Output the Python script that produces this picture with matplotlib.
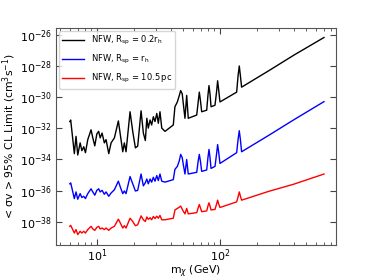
import numpy as np
import matplotlib
matplotlib.use("Agg")
import matplotlib.pyplot as plt
from matplotlib.ticker import LogLocator, NullLocator, FixedLocator, NullFormatter

# Dark-matter mass (GeV)
mass = [6.0, 6.1, 6.53, 6.74, 6.96, 7.28, 7.52, 7.79, 8.04, 8.40, 8.93, 9.23, 9.58,
        9.95, 10.3, 10.6, 10.98, 11.46, 11.83, 12.45, 13.0, 13.83, 14.9, 15.46, 16.18,
        16.67, 17.2, 18.55, 19.5, 20.5, 21.4, 22.8, 23.8, 24.7, 25.4, 26.1, 27.0, 27.8,
        28.7, 29.6, 30.6, 31.5, 32.5, 33.6, 35.7, 41.7, 43.0, 45.0, 46.7, 47.9, 49.3,
        50.3, 51.9, 53.6, 55.2, 64.7, 66.5, 67.9, 69.3, 71.0, 78.0, 79.8, 81.4, 83.0,
        84.6, 91.1, 94.0, 95.7, 97.5, 100, 136.7, 140.5, 143.6, 146.5, 150, 250, 400, 702]

# log10 of <sigma v> limit (cm^3 s^-1)
log_sv_02rh = [-31.57, -31.47, -33.63, -32.52, -33.72, -32.94, -33.44, -33.19, -33.57, -32.73,
               -32.10, -32.62, -33.13, -32.37, -32.20, -32.62, -32.31, -32.94, -32.73, -33.63,
               -32.94, -32.62, -31.53, -32.42, -33.51, -32.94, -33.51, -30.94, -32.20, -33.26,
               -33.15, -30.88, -32.31, -32.79, -31.36, -31.99, -31.47, -31.79, -31.26, -31.57,
               -31.05, -31.68, -30.94, -31.99, -32.20, -31.79, -30.62, -30.31, -29.89, -29.58,
               -29.79, -30.42, -31.36, -29.89, -31.36, -31.15, -30.30, -29.68, -30.20, -30.94,
               -30.84, -29.90, -29.26, -29.80, -30.62, -30.52, -29.60, -28.95, -29.50, -30.31,
               -29.68, -28.60, -28.00, -28.60, -29.36, -28.30, -27.30, -26.17]

log_sv_rh = [-35.57, -35.51, -36.52, -36.09, -36.56, -36.20, -36.45, -36.37, -36.52, -36.20,
             -35.89, -36.09, -36.30, -35.99, -35.89, -36.09, -35.99, -36.24, -36.09, -36.37,
             -36.16, -35.95, -35.40, -35.78, -36.20, -36.03, -36.20, -35.10, -35.57, -36.03,
             -35.99, -34.94, -35.70, -35.50, -35.26, -35.57, -35.26, -35.46, -35.15, -35.40,
             -35.04, -35.36, -34.94, -35.40, -35.46, -35.30, -34.64, -34.45, -34.08, -33.68,
             -33.89, -34.33, -34.94, -34.01, -34.94, -34.83, -34.10, -33.68, -34.10, -34.77,
             -34.68, -33.90, -33.36, -33.90, -34.58, -34.45, -33.60, -33.05, -33.50, -34.26,
             -33.57, -32.70, -32.16, -32.70, -33.51, -32.45, -31.45, -30.29]

log_sv_105pc = [-38.30, -38.24, -38.73, -38.51, -38.83, -38.62, -38.73, -38.62, -38.73, -38.51,
                -38.30, -38.47, -38.56, -38.37, -38.30, -38.47, -38.41, -38.51, -38.41, -38.56,
                -38.41, -38.30, -37.84, -38.09, -38.41, -38.26, -38.41, -37.78, -37.99, -38.26,
                -38.20, -37.63, -37.88, -37.99, -37.70, -37.85, -37.75, -37.88, -37.67, -37.80,
                -37.65, -37.78, -37.60, -37.88, -37.88, -37.78, -37.25, -37.15, -37.07, -37.00,
                -37.20, -37.33, -37.50, -37.15, -37.50, -37.42, -37.10, -36.90, -37.10, -37.36,
                -37.31, -37.00, -36.79, -37.00, -37.25, -37.21, -36.85, -36.62, -36.85, -37.09,
                -36.73, -36.40, -36.09, -36.35, -36.62, -36.05, -35.59, -34.94]

labels = [r"NFW, R$_{\rm sp}$ = 0.2r$_{\rm h}$",
          r"NFW, R$_{\rm sp}$ = r$_{\rm h}$",
          r"NFW, R$_{\rm sp}$ = 10.5$\,$pc"]
colors = ["black", "blue", "red"]

fig = plt.figure(figsize=(3.74, 2.80), dpi=100)
ax = fig.add_axes([0.150, 0.125, 0.748, 0.775])

m = np.array(mass)
for ys, lab, c in zip([log_sv_02rh, log_sv_rh, log_sv_105pc], labels, colors):
    ax.plot(m, 10.0 ** np.array(ys), color=c, lw=1.0, label=lab)

ax.set_xscale("log")
ax.set_yscale("log")
ax.set_xlim(4.64, 877)
ax.set_ylim(10 ** -39.5, 10 ** -25.56)

ax.yaxis.set_major_locator(FixedLocator([10.0 ** e for e in range(-38, -25, 2)]))
ax.yaxis.set_minor_locator(NullLocator())
ax.xaxis.set_major_locator(LogLocator(base=10))
ax.xaxis.set_minor_locator(LogLocator(base=10, subs=np.arange(2, 10)))
ax.xaxis.set_minor_formatter(NullFormatter())

ax.tick_params(which="both", direction="in", top=True, right=True, labelsize=8,
               color="#444444")
ax.tick_params(axis="x", pad=1.5)
ax.tick_params(axis="y", pad=3)
ax.tick_params(which="major", length=4)
ax.tick_params(which="minor", length=2)
for s in ax.spines.values():
    s.set_color("#555555")

ax.set_xlabel(r"m$_\chi$ (GeV)", fontsize=7.8, labelpad=0)
ax.set_ylabel(r"< σv > 95% CL Limit (cm$^3$s$^{-1}$)", fontsize=7.8, labelpad=1)

leg = ax.legend(loc="upper left", fontsize=6, frameon=True, borderaxespad=0.35,
                handlelength=2.6, labelspacing=0.7)
leg.get_frame().set_edgecolor("#cccccc")

fig.savefig("out.png", dpi=100)
